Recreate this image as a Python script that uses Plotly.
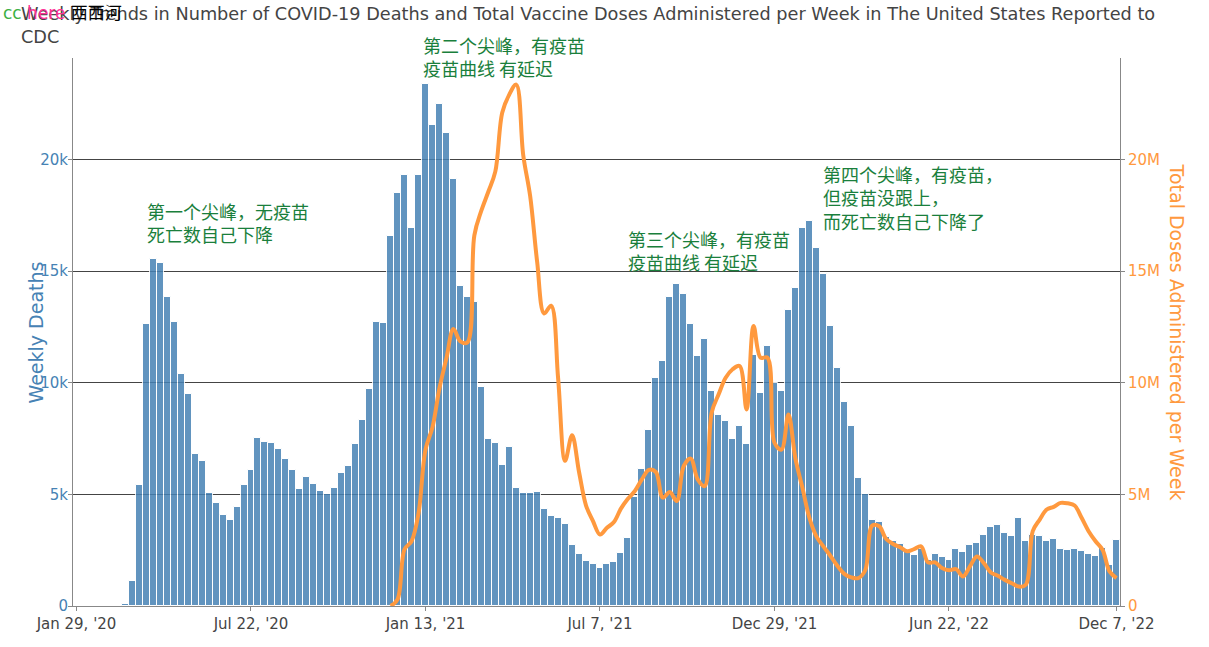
import pandas as pd
import plotly.graph_objects as go

# ---- data -------------------------------------------------------------
start_week = "2020-01-29"
n_weeks = 150
weeks = pd.date_range(start_week, periods=n_weeks, freq="7D")

weekly_deaths = [
    0, 0, 0, 0, 0, 0, 0, 110, 1140, 5420,
    12620, 15520, 15380, 13820, 12710, 10370, 9490, 6790, 6490, 5070,
    4600, 4070, 3850, 4450, 5420, 6100, 7510, 7360, 7300, 7010,
    6580, 6090, 5220, 5760, 5450, 5170, 5010, 5290, 5950, 6280,
    7240, 8350, 9730, 12700, 12670, 16550, 18510, 19290, 16910, 19290,
    23380, 21540, 22480, 21180, 19110, 14320, 13850, 13610, 9810, 7490,
    7280, 6310, 7130, 5290, 5060, 5060, 5090, 4350, 4040, 3960,
    3690, 2730, 2310, 2030, 1880, 1680, 1870, 1950, 2360, 3050,
    4900, 6120, 7880, 10190, 10970, 13850, 14400, 13970, 12620, 11180,
    11960, 9610, 8540, 8270, 7460, 8040, 7250, 11220, 9560, 11650,
    9970, 9610, 13270, 14220, 16910, 17220, 16030, 14880, 12560, 10670,
    9120, 8070, 5740, 5030, 3840, 3760, 3090, 2900, 2780, 2450,
    2270, 2550, 2070, 2330, 2180, 2040, 2570, 2400, 2720, 2820,
    3170, 3540, 3630, 3270, 3140, 3960, 2930, 3200, 3120, 2900,
    3000, 2550, 2490, 2550, 2480, 2330, 2240, 2600, 1850, 2970,
]

doses_first_week_index = 45
doses_millions = [
    0.0, 0.3, 2.54, 2.9, 4.15, 7.0, 8.0, 9.75, 11.1, 12.4,
    11.85, 11.8, 16.6, 17.7, 18.55, 19.45, 22.1, 22.9, 23.35, 20.2,
    18.35, 15.4, 13.1, 13.45, 10.2, 6.5, 7.65, 6.0, 4.5, 3.8,
    3.2, 3.5, 3.76, 4.36, 4.8, 5.15, 5.67, 6.1, 6.0, 4.85,
    5.1, 4.7, 6.27, 6.6, 5.67, 5.37, 8.66, 9.48, 10.22, 10.6,
    10.75, 8.8, 12.54, 11.12, 11.12, 7.31, 7.0, 8.58, 6.6, 5.3,
    3.95, 3.12, 2.67, 2.25, 1.8, 1.44, 1.28, 1.25, 1.6, 3.6,
    3.57, 3.0, 2.78, 2.63, 2.45, 2.55, 2.67, 1.95, 1.95, 1.7,
    1.6, 1.65, 1.32, 1.77, 2.22, 1.92, 1.5, 1.35, 1.17, 1.02,
    0.87, 0.95, 3.35, 3.87, 4.32, 4.44, 4.62, 4.6, 4.5, 3.95,
    3.35, 2.9, 2.52, 1.55, 1.25,
]

tick_week_indices = [0, 25, 50, 75, 100, 125, 149]

annotations_text = [
    "第一个尖峰，无疫苗<br>死亡数自己下降",
    "第二个尖峰，有疫苗<br>疫苗曲线 有延迟",
    "第三个尖峰，有疫苗<br>疫苗曲线 有延迟",
    "第四个尖峰，有疫苗，<br>但疫苗没跟上，<br>而死亡数自己下降了",
]
annotation_pos = [(0.0688, 0.748), (0.3324, 1.051), (0.5282, 0.697), (0.7144, 0.815)]

title_text = ("Weekly Trends in Number of COVID-19 Deaths and Total Vaccine Doses "
              "Administered per Week in The United States Reported to<br>CDC")
left_axis_title = "Weekly Deaths"
right_axis_title = "Total Doses Administered per Week"

# ---- figure -----------------------------------------------------------
assert len(weekly_deaths) == n_weeks
assert doses_first_week_index + len(doses_millions) == n_weeks

dose_weeks = weeks[doses_first_week_index:]
doses = [v * 1e6 for v in doses_millions]

BLUE = "steelblue"
ORANGE = "rgb(255,153,62)"
FONT = "DejaVu Sans"

fig = go.Figure()
fig.add_trace(go.Bar(
    x=weeks, y=weekly_deaths, name="Weekly Deaths",
    marker=dict(color=BLUE, line=dict(color="white", width=1)),
    opacity=0.85, yaxis="y",
))
fig.add_trace(go.Scatter(
    x=dose_weeks, y=doses, name="Total Doses Administered per Week",
    mode="lines", line=dict(color=ORANGE, width=4, shape="spline"),
    yaxis="y2",
))

half = pd.Timedelta(days=3.5)
fig.update_layout(
    width=1209, height=647,
    paper_bgcolor="white", plot_bgcolor="white",
    showlegend=False, bargap=0,
    margin=dict(l=73, r=89, t=58, b=41, autoexpand=False),
    font=dict(family=FONT, color="#444"),
    title=dict(text=title_text, x=21 / 1209, xanchor="left", xref="container",
               y=0.9694, yanchor="top",
               font=dict(family=FONT, size=17.7, color="#444")),
    xaxis=dict(
        type="date", automargin=False,
        range=[weeks[0] - half, weeks[-1] + half],
        tickvals=[weeks[i] for i in tick_week_indices],
        tickformat="%b %-d, '%y",
        tickfont=dict(family=FONT, size=15, color="#444"),
        showgrid=False, showline=True, linecolor="#888", linewidth=1,
        ticks="outside", ticklen=4, tickcolor="#888",
    ),
    yaxis=dict(
        automargin=False,
        range=[0, 24540], dtick=5000, tickformat="~s",
        tickfont=dict(family=FONT, size=15, color=BLUE),
        showgrid=True, gridcolor="#444", gridwidth=1, zeroline=False,
        showline=True, linecolor="#888", linewidth=1,
        ticks="outside", ticklen=4, tickcolor="#888",
        ticklabelstandoff=-3,
    ),
    yaxis2=dict(
        overlaying="y", side="right", automargin=False,
        range=[0, 24.54e6], dtick=5e6, tickformat="~s",
        tickfont=dict(family=FONT, size=15, color=ORANGE),
        showgrid=False, zeroline=False,
        showline=True, linecolor="#888", linewidth=1,
        ticks="outside", ticklen=4, tickcolor="#888",
    ),
)

# axis titles
fig.add_annotation(
    text=left_axis_title, xref="paper", yref="paper",
    x=(36 - 73) / 1047, y=0.499, xanchor="center", yanchor="middle",
    textangle=-90, showarrow=False, font=dict(family=FONT, size=19, color=BLUE),
)
fig.add_annotation(
    text=right_axis_title, xref="paper", yref="paper",
    x=(1177 - 73) / 1047, y=0.499, xanchor="center", yanchor="middle",
    textangle=90, showarrow=False, font=dict(family=FONT, size=19, color=ORANGE),
)

for txt, (ax, ay) in zip(annotations_text, annotation_pos):
    fig.add_annotation(
        text=txt, xref="paper", yref="paper", x=ax, y=ay,
        xanchor="left", yanchor="top", align="left", showarrow=False,
        font=dict(family="Noto Sans CJK SC", size=18, color="#1a7f3c"),
    )

fig.add_annotation(
    text="<span style='color:#3cb043'>cc</span> <span style='color:#ff3399'>here</span> "
         "<span style='color:#000'>西西河</span>",
    xref="paper", yref="paper", x=(1 - 73) / 1047, y=(606 - 1) / 548,
    xanchor="left", yanchor="top", showarrow=False,
    font=dict(family="DejaVu Sans, Noto Sans CJK SC", size=17),
)

fig.write_html("out.html", config={"displayModeBar": False},
               post_script="document.body.style.margin='0';")
